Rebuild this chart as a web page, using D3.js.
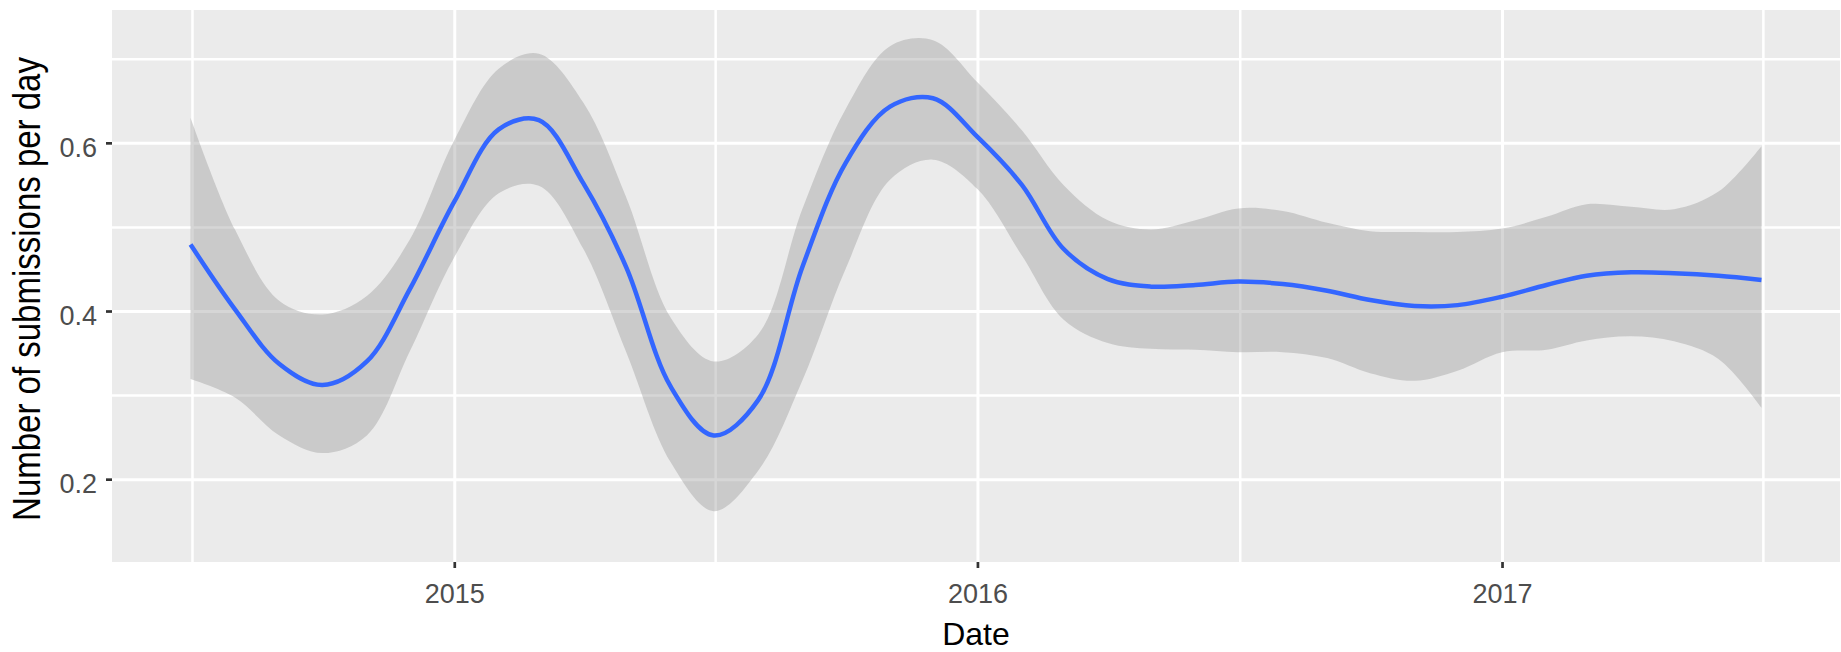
<!DOCTYPE html>
<html>
<head>
<meta charset="utf-8">
<script src="https://cdn.jsdelivr.net/npm/d3@7"></script>
<style>
  body { margin: 0; background: #ffffff; }
  text { font-family: "Liberation Sans", Arial, sans-serif; }
</style>
</head>
<body>
<div id="root"></div>
<script>
// monthly points of the loess fit and its confidence band
var dates = [
  "2014-07-01","2014-08-01","2014-09-01","2014-10-01","2014-11-01","2014-12-01",
  "2015-01-01","2015-02-01","2015-03-01","2015-04-01","2015-05-01","2015-06-01",
  "2015-07-01","2015-08-01","2015-09-01","2015-10-01","2015-11-01","2015-12-01",
  "2016-01-01","2016-02-01","2016-03-01","2016-04-01","2016-05-01","2016-06-01",
  "2016-07-01","2016-08-01","2016-09-01","2016-10-01","2016-11-01","2016-12-01",
  "2017-01-01","2017-02-01","2017-03-01","2017-04-01","2017-05-01","2017-06-01",
  "2017-07-01"
];
var fitValues = [
  0.479, 0.402, 0.337, 0.312, 0.340, 0.426,
  0.530, 0.616, 0.627, 0.552, 0.452, 0.310,
  0.252, 0.294, 0.453, 0.576, 0.643, 0.653,
  0.607, 0.550, 0.474, 0.438, 0.429, 0.431,
  0.435, 0.432, 0.424, 0.413, 0.406, 0.407,
  0.417, 0.431, 0.442, 0.446, 0.445, 0.442,
  0.437
];
var upperValues = [
  0.630, 0.497, 0.412, 0.396, 0.418, 0.485,
  0.603, 0.688, 0.706, 0.648, 0.535, 0.392,
  0.340, 0.372, 0.522, 0.640, 0.715, 0.722,
  0.672, 0.615, 0.550, 0.508, 0.497, 0.508,
  0.522, 0.519, 0.505, 0.495, 0.494, 0.494,
  0.498, 0.512, 0.527, 0.524, 0.521, 0.542,
  0.596
];
var lowerValues = [
  0.319, 0.297, 0.252, 0.231, 0.252, 0.352,
  0.464, 0.540, 0.549, 0.474, 0.351, 0.220,
  0.162, 0.210, 0.318, 0.450, 0.556, 0.580,
  0.545, 0.466, 0.390, 0.362, 0.355, 0.354,
  0.351, 0.351, 0.344, 0.326, 0.317, 0.329,
  0.351, 0.354, 0.365, 0.370, 0.364, 0.343,
  0.285
];
var yDomain = [0.1015, 0.758];
var yMajor = [0.2, 0.4, 0.6];
var yMinor = [0.3, 0.5, 0.7];
var xMajor = ["2015-01-01", "2016-01-01", "2017-01-01"];
var xMinor = ["2014-07-02", "2015-07-02", "2016-07-02", "2017-07-02"];

var parse = d3.timeParse("%Y-%m-%d");
var data = dates.map(function(d, i) {
  return {date: parse(d), fit: fitValues[i], hi: upperValues[i], lo: lowerValues[i]};
});

var margin = {top: 10, right: 1, bottom: 90, left: 112},
    width = 1841 - margin.left - margin.right,
    height = 652 - margin.top - margin.bottom;

var svg = d3.select("#root").append("svg")
    .attr("width", 1841)
    .attr("height", 652)
    .style("display", "block")
  .append("g")
    .attr("transform", "translate(" + margin.left + "," + margin.top + ")");

var ext = d3.extent(data, function(d) { return d.date; });
var span = ext[1] - ext[0];
var x = d3.scaleTime()
    .domain([new Date(+ext[0] - span * 0.05), new Date(+ext[1] + span * 0.05)])
    .range([0, width]);
var y = d3.scaleLinear().domain(yDomain).range([height, 0]);

svg.append("rect")
    .attr("width", width)
    .attr("height", height)
    .attr("fill", "#EBEBEB");

// grid lines (minor first, then major)
function grid(g, axis, w) {
  g.call(axis);
  g.select(".domain").remove();
  g.selectAll(".tick line").attr("stroke", "#FFFFFF").attr("stroke-width", w);
}
svg.append("g").call(grid, d3.axisLeft(y).tickValues(yMinor).tickSize(-width).tickFormat(""), 2.5);
svg.append("g").attr("transform", "translate(0," + height + ")")
    .call(grid, d3.axisBottom(x).tickValues(xMinor.map(parse)).tickSize(-height).tickFormat(""), 2.5);
svg.append("g").call(grid, d3.axisLeft(y).tickValues(yMajor).tickSize(-width).tickFormat(""), 3);
svg.append("g").attr("transform", "translate(0," + height + ")")
    .call(grid, d3.axisBottom(x).tickValues(xMajor.map(parse)).tickSize(-height).tickFormat(""), 3);

var band = d3.area()
    .x(function(d) { return x(d.date); })
    .y0(function(d) { return y(d.lo); })
    .y1(function(d) { return y(d.hi); })
    .curve(d3.curveCatmullRom);

svg.append("path")
    .datum(data)
    .attr("d", band)
    .attr("fill", "#999999")
    .attr("fill-opacity", 0.4);

var line = d3.line()
    .x(function(d) { return x(d.date); })
    .y(function(d) { return y(d.fit); })
    .curve(d3.curveCatmullRom);

svg.append("path")
    .datum(data)
    .attr("d", line)
    .attr("fill", "none")
    .attr("stroke", "#3366FF")
    .attr("stroke-width", 4.5);

// axes with ticks and labels
var xAxis = svg.append("g")
    .attr("transform", "translate(0," + height + ")")
    .call(d3.axisBottom(x).tickValues(xMajor.map(parse)).tickFormat(d3.timeFormat("%Y")).tickSize(6).tickPadding(16));
var yAxis = svg.append("g")
    .call(d3.axisLeft(y).tickValues(yMajor).tickFormat(d3.format(".1f")).tickSize(6).tickPadding(9));

[xAxis, yAxis].forEach(function(a) {
  a.select(".domain").remove();
  a.selectAll(".tick line").attr("stroke", "#333333").attr("stroke-width", 2.7);
  a.selectAll(".tick text")
      .attr("fill", "#4D4D4D")
      .style("font-size", "27px")
      .style("font-family", "'Liberation Sans', Arial, sans-serif");
});
yAxis.selectAll(".tick text").attr("dy", "0.5em");

svg.append("text")
    .attr("x", width / 2)
    .attr("y", 635)
    .attr("text-anchor", "middle")
    .attr("fill", "#000000")
    .style("font-size", "32px")
    .text("Date");

svg.append("text")
    .attr("transform", "translate(" + (40 - margin.left) + "," + (height / 2 + 3) + ") rotate(-90) scale(1,1.15)")
    .attr("text-anchor", "middle")
    .attr("fill", "#000000")
    .style("font-size", "33px")
    .text("Number of submissions per day");
</script>
</body>
</html>
